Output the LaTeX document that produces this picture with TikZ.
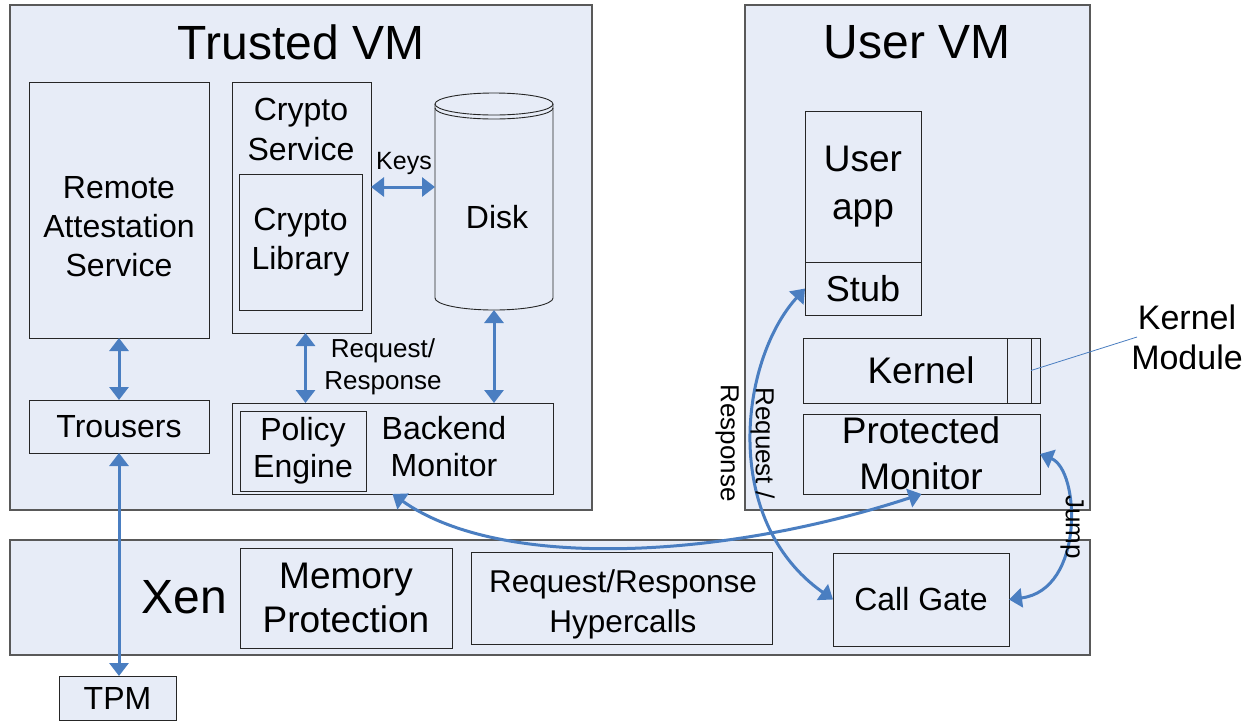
\documentclass[tikz,border=0pt]{standalone}
\usepackage{fontspec}
\setmainfont{Liberation Sans}
\usetikzlibrary{arrows.meta}
\definecolor{boxfill}{RGB}{231,236,247}
\definecolor{arrowblue}{RGB}{74,126,193}
\begin{document}
\begin{tikzpicture}[x=1pt,y=-1pt,
  outerbox/.style={draw=black!65, fill=boxfill, line width=1.3pt, inner sep=0pt, outer sep=0pt},
  box/.style={draw=black!85, fill=boxfill, line width=0.9pt, inner sep=0pt, outer sep=0pt, align=center},
  txt/.style={inner sep=0pt, align=center},
  conn/.style={draw=arrowblue, line width=3pt, {Triangle[width=19pt,length=13pt]}-{Triangle[width=19pt,length=13pt]}},
  thinconn/.style={draw=arrowblue, line width=0.8pt},
  ftitle/.style={font=\fontsize{48}{56}\selectfont},
  fbig/.style={font=\fontsize{37}{46}\selectfont},
  fmid/.style={font=\fontsize{32}{39}\selectfont},
  fsmall/.style={font=\fontsize{26}{32}\selectfont}]
\useasboundingbox (0,0) rectangle (1258,721);
\fill[white] (0,0) rectangle (1258,721);

% outer boxes
\node[outerbox, minimum width=582pt, minimum height=505pt] (trusted) at (301,257.5) {};
\node[outerbox, minimum width=345pt, minimum height=505pt] (uservm) at (917.5,257.5) {};
\node[outerbox, minimum width=1080pt, minimum height=115pt] (xen) at (550,597.5) {};
\node[txt, ftitle] (trustedt) at (301,42) {Trusted VM};
\node[txt, ftitle] (uservmt) at (917,42) {User VM};
\node[txt, ftitle] (xent) at (184,597) {Xen};

% trusted VM contents
\node[box, minimum width=180pt, minimum height=256pt] (remote) at (119,210) {};
\node[txt, fmid] (remotet) at (119,227) {Remote\\Attestation\\Service};
\node[box, minimum width=139pt, minimum height=251pt] (crypto) at (301.5,207.5) {};
\node[txt, font=\fontsize{32}{40}\selectfont] (cryptot) at (301,129) {Crypto\\Service};
\node[box, fmid, minimum width=123pt, minimum height=136pt] (cryptolib) at (300.5,242) {Crypto\\Library};
\node[box, fmid, minimum width=180pt, minimum height=53pt] (trousers) at (119,426.5) {Trousers};
\node[box, minimum width=321pt, minimum height=91pt] (backend) at (392.5,448.5) {};
\node[txt, font=\fontsize{32}{37}\selectfont] (backendt) at (444,447) {Backend\\Monitor};
\node[box, font=\fontsize{32}{37}\selectfont, minimum width=126pt, minimum height=80pt] (policy) at (303,451) {Policy\\Engine};

% disk cylinder
\node[inner sep=0pt, outer sep=0pt, minimum width=118pt, minimum height=217pt] (disk) at (494,201.5) {};
\fill[boxfill] (435,104) -- (435,298) arc[start angle=180, end angle=0, x radius=59, y radius=12] -- (553,104) -- cycle;
\draw[black!85, line width=0.9pt] (435,104) -- (435,298) arc[start angle=180, end angle=0, x radius=59, y radius=12] -- (553,104);
\draw[black!85, line width=0.9pt, fill=boxfill] (494,104) ellipse [x radius=59, y radius=11];
\draw[black!85, line width=0.9pt] (435,108) arc[start angle=180, end angle=0, x radius=59, y radius=11];
\node[txt, fmid] (diskt) at (497,217) {Disk};

% user VM contents
\node[box, font=\fontsize{37}{48}\selectfont, minimum width=116pt, minimum height=151pt] (userapp) at (863,186.5) {User\\app};
\node[box, font=\fontsize{36}{40}\selectfont, minimum width=116pt, minimum height=53pt] (stub) at (863,288.5) {Stub};
\node[box, minimum width=237pt, minimum height=65pt] (kernel) at (921.5,370.5) {};
\node[txt, fbig] (kernelt) at (921,370) {Kernel};
\node[box, minimum width=24pt, minimum height=65pt] (kmod) at (1019,370.5) {};
\node[box, minimum width=9pt, minimum height=65pt] (kmod2) at (1035.5,370.5) {};
\node[box, minimum width=237pt, minimum height=80pt] (protmon) at (921.5,454) {};
\node[txt, fbig] (protmont) at (921,453) {Protected\\Monitor};
\node[txt, font=\fontsize{34}{40}\selectfont] (kmlabel) at (1187,337) {Kernel\\Module};

% Xen contents
\node[box, font=\fontsize{37}{44}\selectfont, minimum width=212pt, minimum height=100pt] (memprot) at (346,598) {Memory\\Protection};
\node[box, minimum width=301pt, minimum height=92pt] (hyper) at (621.5,598) {};
\node[txt, font=\fontsize{31.5}{40}\selectfont] (hypert) at (623,604) {Request/Response\\Hypercalls};
\node[box, fmid, minimum width=176pt, minimum height=93pt] (callgate) at (921,599.5) {Call Gate};
\node[box, fmid, minimum width=117pt, minimum height=44pt] (tpm) at (117.5,698) {TPM};

% connectors
\coordinate (keysy) at (0,187);
\draw[conn] (crypto.east |- keysy) -- (disk.west |- keysy);
\node[txt, font=\fontsize{25}{30}\selectfont] (keyst) at (404,163) {Keys};
\draw[conn] (remote.south) -- (trousers.north);
\draw[conn] (trousers.south) -- (trousers.south |- tpm.north);
\draw[conn] ([xshift=4pt]crypto.south) -- ([xshift=4pt]crypto.south |- backend.north);
\node[txt, fsmall] (rrt) at (383,367) {Request/\\Response};
\draw[conn] (disk.south) -- (disk.south |- backend.north);
\draw[conn] (backend.south) .. controls (500,570) and (720,560) .. (protmon.south);
\draw[conn] (stub.west) .. controls (740,360) and (720,520) .. (callgate.west);
\draw[conn] (protmon.east) .. controls (1080,470) and (1085,590) .. (callgate.east);
\node[txt, rotate=-90, font=\fontsize{26}{35}\selectfont] (rrv) at (745,443) {Request /\\Response};
\node[txt, rotate=-90, font=\fontsize{26}{30}\selectfont] (jumpt) at (1072,527) {Jump};
\draw[thinconn] (kmod2.west) -- ([xshift=6pt]kmlabel.west);
\end{tikzpicture}
\end{document}
